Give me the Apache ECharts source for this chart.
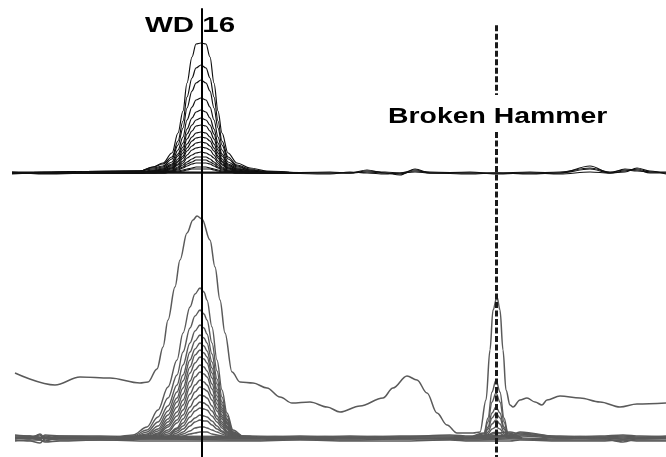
<!DOCTYPE html>
<html>
<head>
<meta charset="utf-8">
<script src="https://cdn.jsdelivr.net/npm/echarts@6/dist/echarts.min.js"></script>
<style>
  html, body { margin: 0; padding: 0; background: #fff; }
  #chart { width: 666px; height: 457px; }
</style>
</head>
<body>
<div id="chart"></div>
<script>
// positions along the run (same x scale for both panels)
var markerWD16 = 192;
var markerBH = 486;

// ---- upper panel: WD 16 peaks ----
var topX = [2, 130, 143, 153, 162, 168, 173, 177, 182, 186, 191, 196, 200, 204, 208, 212, 218, 227, 240, 257, 290];
var topPeaks = [
  [0, 2, 6, 10, 20, 40, 62, 90, 116, 129, 130, 129, 116, 90, 62, 40, 20, 10, 5, 2, 0],
  [0, 2, 6, 9, 16, 32, 52, 76, 95, 105, 108, 105, 95, 76, 52, 32, 16, 8, 4, 1, 0],
  [0, 2, 5, 7, 14, 28, 45, 65, 82, 90, 93, 90, 82, 65, 45, 28, 14, 7, 3, 1, 0],
  [0, 2, 4, 6, 11, 23, 36, 53, 66, 73, 75, 73, 66, 53, 36, 23, 11, 6, 3, 1, 0],
  [0, 1, 3, 5, 9, 19, 30, 44, 55, 61, 63, 61, 55, 44, 30, 19, 9, 5, 2, 1, 0],
  [0, 1, 2, 4, 8, 17, 26, 39, 48, 53, 55, 53, 48, 39, 26, 17, 8, 4, 2, 1, 0],
  [0, 1, 2, 4, 7, 14, 23, 34, 42, 47, 48, 47, 42, 34, 23, 14, 7, 4, 2, 0, 0],
  [0, 1, 2, 3, 6, 12, 20, 29, 36, 40, 41, 40, 36, 29, 20, 12, 6, 3, 1, 0, 0],
  [0, 1, 2, 3, 5, 11, 17, 25, 32, 35, 36, 35, 32, 25, 17, 11, 5, 3, 1, 0, 0],
  [0, 1, 1, 2, 5, 9, 15, 22, 27, 30, 31, 30, 27, 22, 15, 9, 5, 2, 1, 0, 0],
  [0, 1, 1, 2, 4, 8, 12, 18, 23, 25, 26, 25, 23, 18, 12, 8, 4, 2, 1, 0, 0],
  [0, 0, 1, 2, 3, 6, 10, 15, 18, 20, 21, 20, 18, 15, 10, 6, 3, 2, 1, 0, 0],
  [0, 0, 1, 1, 2, 5, 8, 11, 14, 16, 16, 16, 14, 11, 8, 5, 2, 1, 1, 0, 0],
  [0, 0, 1, 1, 2, 4, 6, 9, 11, 13, 13, 13, 11, 9, 6, 4, 2, 1, 0, 0, 0],
  [0, 0, 0, 1, 2, 3, 5, 7, 9, 10, 10, 10, 9, 7, 5, 3, 2, 1, 0, 0, 0],
  [0, 0, 0, 0, 1, 2, 3, 4, 5, 6, 6, 6, 5, 4, 3, 2, 1, 0, 0, 0, 0],
  [0, 0, 0, 0, 1, 1, 2, 3, 4, 4, 4, 4, 4, 3, 2, 1, 1, 0, 0, 0, 0]
];
var topBaseX = [2, 35, 90, 130, 260, 320, 340, 357, 375, 390, 405, 420, 460, 486, 520, 550, 580, 600, 615, 627, 640, 656];
var topBaselines = [
  [0, 0, 0, 0, 0, 0, 0, 3, 0, -2, 4, 0, 0, 0, -1, 0, 7, 0, 2, 4, 1, 0],
  [1, 1, 0, 1, 0, 1, 0, 1, 0, -1, 2, 1, 0, 0, 1, 0, 4, 0, 4, 3, 0, 0],
  [-1, 0, 0, 0, 0, -1, 1, 0, -1, 0, 1, 0, -1, 0, 0, -1, 1, 0, 1, 5, 2, -1],
  [1, -1, 0, 1, 1, 0, 0, 2, 1, 0, 3, 0, 1, -1, 0, 1, 5, 1, 3, 2, 1, 1]
];

// ---- lower panel ----
var lowX = [5, 100, 123, 137, 148, 158, 167, 173, 180, 185, 190, 194, 197, 202, 207, 212, 217, 223, 233, 250];
var lowPeaks = [
  [0, 0, 3, 11, 28, 51, 78, 105, 131, 144, 150, 146, 138, 111, 78, 48, 25, 8, 2, 0],
  [0, 0, 2, 8, 21, 40, 63, 86, 110, 122, 128, 124, 118, 95, 67, 41, 22, 6, 2, 0],
  [0, 0, 1, 6, 16, 32, 53, 73, 95, 107, 113, 110, 104, 84, 59, 36, 19, 6, 1, 0],
  [0, 0, 1, 4, 12, 27, 46, 63, 86, 97, 103, 100, 95, 76, 54, 33, 18, 5, 1, 0],
  [0, 0, 1, 3, 9, 23, 40, 57, 78, 89, 95, 92, 87, 70, 49, 30, 16, 5, 1, 0],
  [0, 0, 1, 2, 7, 19, 36, 50, 71, 83, 88, 85, 81, 65, 46, 28, 15, 4, 1, 0],
  [0, 0, 0, 1, 5, 16, 31, 44, 65, 75, 81, 79, 75, 60, 42, 26, 14, 4, 1, 0],
  [0, 0, 0, 1, 4, 13, 26, 38, 57, 68, 73, 71, 67, 54, 38, 23, 12, 4, 1, 0],
  [0, 0, 0, 1, 3, 11, 22, 33, 51, 61, 66, 64, 61, 49, 34, 21, 11, 3, 1, 0],
  [0, 0, 0, 1, 2, 8, 18, 28, 44, 53, 58, 56, 53, 43, 30, 19, 10, 3, 1, 0],
  [0, 0, 0, 0, 1, 6, 15, 23, 38, 46, 51, 49, 47, 38, 27, 16, 9, 3, 1, 0],
  [0, 0, 0, 0, 1, 4, 10, 19, 31, 39, 43, 42, 40, 32, 22, 14, 7, 2, 1, 0],
  [0, 0, 0, 0, 1, 2, 9, 15, 26, 32, 36, 35, 33, 27, 19, 12, 6, 2, 0, 0],
  [0, 0, 0, 0, 0, 2, 7, 12, 21, 27, 30, 29, 28, 22, 16, 10, 5, 2, 0, 0],
  [0, 0, 0, 0, 0, 1, 5, 9, 16, 20, 23, 22, 21, 17, 12, 7, 4, 1, 0, 0],
  [0, 0, 0, 0, 0, 1, 3, 6, 12, 16, 18, 17, 17, 13, 9, 6, 3, 1, 0, 0],
  [0, 0, 0, 0, 0, 1, 2, 4, 7, 10, 11, 11, 10, 8, 6, 4, 2, 1, 0, 0],
  [0, 0, 0, 0, 0, 0, 1, 2, 4, 5, 6, 6, 6, 4, 3, 2, 1, 0, 0, 0]
];
// the one raised trace
var broadX = [5, 45, 70, 100, 130, 138, 147, 153, 158, 165, 170, 177, 183, 187, 192, 200, 205, 210, 215, 222,
  230, 243, 257, 270, 282, 300, 317, 330, 350, 373, 383, 397, 407, 417, 427, 437, 447, 463, 470, 476,
  480, 483, 487, 490, 493, 496, 500, 503, 510, 517, 525, 532, 537, 550, 570, 590, 610, 627, 656];
var broadY = [65, 53, 61, 60, 55, 56, 69, 91, 118, 151, 178, 205, 218, 222, 219, 198, 171, 138, 105, 66,
  56, 55, 50, 41, 35, 36, 31, 26, 32, 40, 50, 62, 58, 45, 25, 13, 5, 5, 6, 38,
  88, 128, 141, 128, 88, 48, 33, 31, 38, 40, 36, 33, 38, 42, 40, 36, 31, 34, 35];
// Broken Hammer peaks
var bhX = [460, 474, 478, 482, 486, 490, 494, 498, 512];
var bhPeaks = [
  [0, 5, 20, 46, 58, 46, 20, 5, 0],
  [0, 4, 16, 36, 45, 36, 16, 4, 0],
  [0, 2, 11, 25, 31, 25, 11, 2, 0],
  [0, 2, 9, 20, 25, 20, 9, 2, 0],
  [0, 1, 6, 14, 18, 14, 6, 1, 0],
  [0, 1, 4, 9, 11, 9, 4, 1, 0],
  [0, 0, 2, 5, 6, 5, 2, 0, 0]
];
var lowBaseX = [5, 20, 30, 35, 50, 90, 140, 240, 290, 340, 390, 440, 460, 500, 510, 550, 590, 613, 630, 656];
var lowBaselines = [
  [1, 1, 3, -3, 1, 0, 1, 0, 1, 0, 1, 1, 0, 2, 5, 1, 0, -4, 0, 1],
  [-1, 0, -2, 2, -1, -1, 0, -1, 0, -1, 0, 0, -1, 0, 2, 0, -1, 0, -1, 0],
  [2, 2, 1, 0, 2, 1, 2, 1, 2, 1, 2, 2, 1, 3, 3, 2, 1, 2, 1, 2],
  [-2, -3, -5, -1, -2, -2, -1, -2, -1, -2, -1, -1, -2, -1, -1, -2, -2, -2, -2, -2],
  [0, -1, 4, 0, 0, 1, 0, 1, -1, 1, 0, -1, 1, 6, 4, 0, 1, -1, 0, 0],
  [3, 2, -1, 3, 2, 2, 1, 2, 1, 2, 1, 3, 2, 2, 6, 1, 2, 3, 2, 1],
  [-3, -2, -2, -4, -3, -2, -3, -3, -2, -3, -3, -2, -3, -3, -2, -3, -3, -2, -3, -3],
  [0, 1, 0, 1, 0, 0, -1, 0, 0, 0, -1, 0, 0, 1, 0, -1, 0, 1, 0, 0]
];

function trace(xs, ys, panel, color, width) {
  return {
    type: "line",
    xAxisIndex: panel,
    yAxisIndex: panel,
    data: xs.map(function (x, i) { return [x, ys[i]]; }),
    showSymbol: false,
    symbol: "none",
    smooth: 0.35,
    smoothMonotone: "x",
    silent: true,
    lineStyle: { color: color, width: width },
  };
}

var series = [];
var topColor = "#111";
var lowColor = "#5a5a5a";
topBaselines.forEach(function (b) { series.push(trace(topBaseX, b, 0, topColor, 1.2)); });
topPeaks.forEach(function (p) { series.push(trace(topX, p, 0, topColor, 1.2)); });
lowBaselines.forEach(function (b) { series.push(trace(lowBaseX, b, 1, lowColor, 1.5)); });
lowPeaks.forEach(function (p) { series.push(trace(lowX, p, 1, lowColor, 1.4)); });
bhPeaks.forEach(function (p) { series.push(trace(bhX, p, 1, lowColor, 1.4)); });
series.push(trace(broadX, broadY, 1, lowColor, 1.5));

// marker lines across both panels
var dash = { type: [6, 2.5], width: 3, color: "#1a1a1a" };
series.push({
  type: "line",
  xAxisIndex: 2,
  yAxisIndex: 2,
  data: [],
  silent: true,
  markLine: {
    silent: true,
    symbol: "none",
    animation: false,
    label: { show: false },
    data: [
      [{ coord: [markerWD16, 0.982], lineStyle: { type: "solid", width: 2, color: "#000" } },
       { coord: [markerWD16, 0] }],
      [{ coord: [markerBH, 0.945], lineStyle: dash }, { coord: [markerBH, 0.792] }],
      [{ coord: [markerBH, 0.711], lineStyle: dash }, { coord: [markerBH, 0] }],
    ],
  },
});

var xAx = function (i) {
  return { type: "value", gridIndex: i, min: 0, max: 656, show: false };
};

var myChart = echarts.init(document.getElementById("chart"));
var option = {
  backgroundColor: "#fff",
  animation: false,
  grid: [
    { left: 10, right: 0, top: 41, height: 142 },
    { left: 10, right: 0, top: 214, height: 232 },
    { left: 10, right: 0, top: 0, height: 457 },
  ],
  xAxis: [xAx(0), xAx(1), xAx(2)],
  yAxis: [
    { type: "value", gridIndex: 0, min: -10, max: 132, show: false },
    { type: "value", gridIndex: 1, min: -8, max: 224, show: false },
    { type: "value", gridIndex: 2, min: 0, max: 1, show: false },
  ],
  graphic: [
    {
      type: "text",
      x: 145,
      y: 26,
      scaleX: 1.34,
      silent: true,
      style: {
        text: "WD 16",
        font: 'bold 22px "Liberation Sans", Arial, sans-serif',
        fill: "#000",
        verticalAlign: "middle",
      },
    },
    {
      type: "text",
      x: 388,
      y: 117,
      scaleX: 1.29,
      silent: true,
      style: {
        text: "Broken Hammer",
        font: 'bold 22px "Liberation Sans", Arial, sans-serif',
        fill: "#000",
        verticalAlign: "middle",
      },
    },
  ],
  series: series,
};
myChart.setOption(option);
window.onresize = function () {
  myChart.resize();
};
</script>
</body>
</html>
